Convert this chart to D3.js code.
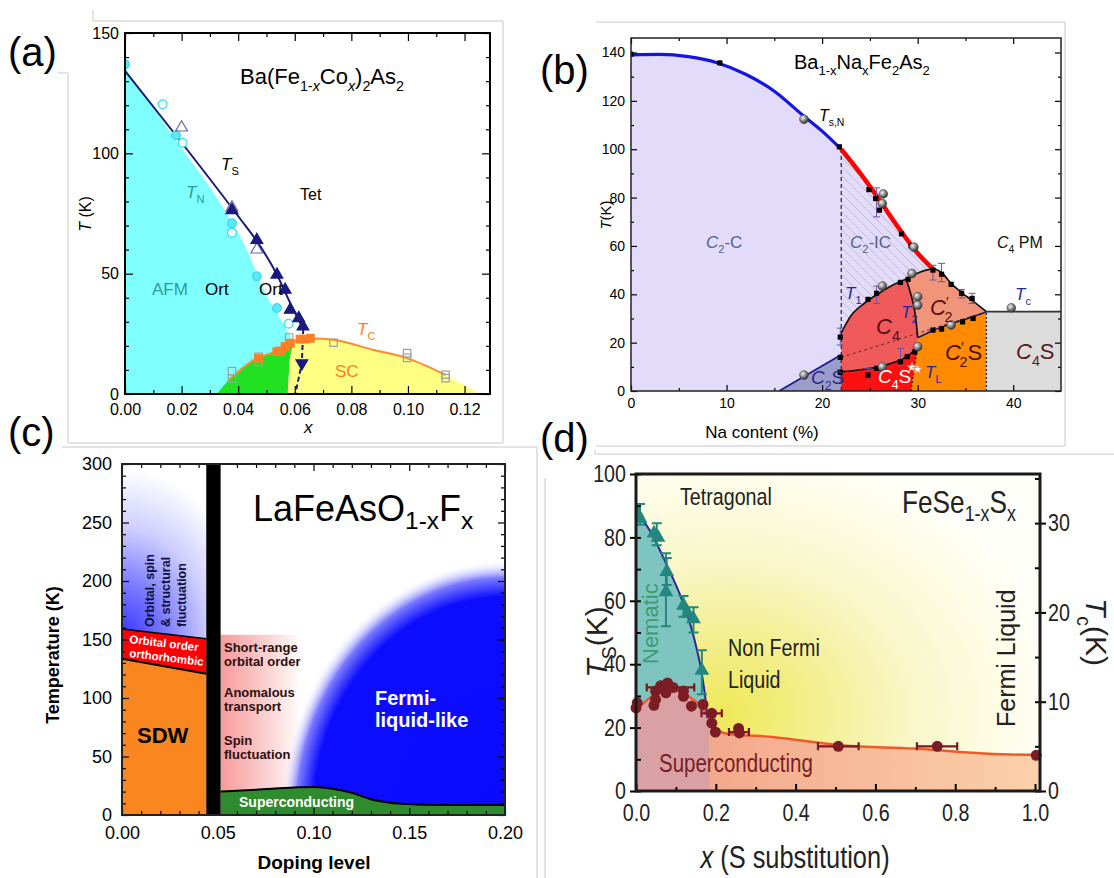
<!DOCTYPE html>
<html>
<head>
<meta charset="utf-8">
<script src="https://cdnjs.cloudflare.com/ajax/libs/d3/7.8.5/d3.min.js"></script>
<style>
  html, body { margin: 0; padding: 0; background: #fff; }
  svg { display: block; }
</style>
</head>
<body>
<svg id="fig" width="1114" height="878" xmlns="http://www.w3.org/2000/svg"></svg>
<script>
// ---------------- Panel (a): Ba(Fe1-xCox)2As2 ----------------
const aXTicks = [0, 0.02, 0.04, 0.06, 0.08, 0.10, 0.12];
const aXMinor = [0.01, 0.03, 0.05, 0.07, 0.09, 0.11];
const aYTicks = [0, 50, 100, 150];
const aYMinor = [10, 20, 30, 40, 60, 70, 80, 90, 110, 120, 130, 140];
const aTN = [[0, 135.5], [0.01, 119], [0.02, 102], [0.03, 86], [0.0354, 76], [0.043, 60], [0.049, 43.3], [0.055, 31], [0.0585, 24]];
const aTs = [[0, 134.3], [0.02, 104.5], [0.0409, 72.5], [0.0466, 63.5], [0.0537, 49.6], [0.0584, 37.8], [0.063, 27]];
const aTsDash = [[0.063, 27], [0.0625, 12.8], [0.0602, 0]];
const aTc = [[0.0366, 5.8], [0.0466, 14.9], [0.0537, 17.9], [0.0578, 21.1], [0.0595, 21.8], [0.0655, 23.2], [0.0737, 22.5], [0.0879, 18.3], [0.0997, 14.9], [0.1133, 7.9]];
const aScStart = [0.0324, 0];
const aScEnd = [0.1257, 0];
const aOrtEdge = [[0.0595, 21.8], [0.0582, 14], [0.0575, 0]];
const aTsUpFilled = [[0.0378, 76.4], [0.0466, 64], [0.0537, 49.6], [0.0566, 43.3], [0.0584, 35], [0.0614, 31.5], [0.0629, 28]];
const aTsUpOpen = [[0.02, 110.7], [0.0378, 77.5], [0.0466, 60]];
const aTsDown = [[0.0625, 12.8]];
const aTnFilled = [[0, 137], [0.018, 107.5], [0.0378, 71], [0.0466, 48.9], [0.0537, 35.7]];
const aTnOpen = [[0.0133, 120.4], [0.0204, 104.4], [0.0378, 67], [0.0578, 29.2]];
const aTcFilled = [[0.0472, 14.9], [0.0537, 17.6], [0.0549, 17.9], [0.0566, 19.7], [0.0584, 21.1], [0.0619, 22.8], [0.0637, 22.8], [0.0655, 23.2]];
const aTcOpen = [[0.0378, 9.5], [0.0378, 6.5], [0.0472, 15.5], [0.0472, 13.3], [0.058, 23.5], [0.0737, 21.3], [0.0997, 17], [0.0997, 15], [0.1133, 8], [0.1133, 6.6]];

// ---------------- Panel (b): Ba1-xNaxFe2As2 ----------------
const bXTicks = [0, 10, 20, 30, 40];
const bXMinor = [5, 15, 25, 35];
const bYTicks = [0, 20, 40, 60, 80, 100, 120, 140];
const bYMinor = [10, 30, 50, 70, 90, 110, 130];
const bTsN = [[0, 139], [3, 139.2], [6, 138.3], [9, 135.8], [12, 131], [15, 124], [18, 114], [20, 107.5], [22, 100]];
const bTsRed = [[22, 100], [24, 90], [26, 79], [28, 67.5], [30, 57], [31.6, 50.5]];
const bT1 = [[22, 24], [23, 31], [24.5, 36.5], [26, 40.5], [27.5, 44], [28.8, 46.3]];
const bC2Top = [[28.8, 46.3], [30.1, 48.9], [31.6, 50.5], [32.5, 49], [33.5, 44.5], [34.7, 40.4], [35.8, 37.2], [37.2, 32.8]];
const bT2 = [[28.8, 46.3], [29.6, 35], [30, 22]];
const bC4Bottom = [[22, 8], [24, 8.8], [25.7, 9.9], [27.5, 11.8], [28.8, 14], [30, 18.3]];
const bC2STop = [[30, 22], [31.6, 25], [33.5, 27.8], [35.5, 30.3], [37.2, 32.8]];
const bTcLine = [[37.2, 32.8], [45, 32.8]];
const bTLLine = [[29.3, 0], [30, 18.3]];
const bC2SEdge = [[15.5, 0], [22, 15]];
const bInnerDash = [[22, 13.9], [37.2, 32.8]];
const bSquares = [[0, 139.3], [9.3, 135.7], [21.8, 101], [24.9, 83.3], [25.6, 79.6], [26, 74.8], [28.3, 65], [29.3, 60],
  [21.9, 22.3], [21.9, 13.9], [21.9, 7.7], [24.8, 37.9], [25.7, 40.4], [28.2, 44.9], [29, 46.2], [31.6, 50], [32.5, 48.3],
  [33.5, 44.1], [34.6, 40.4], [35.7, 38.3], [31.6, 25.2], [32.5, 25.6], [34.7, 28.6], [35.8, 30], [24.8, 6.6], [25.7, 9.4],
  [28.2, 12.1], [28.9, 14.2], [29.7, 16.2]];
const bSpheres = [[18.1, 112.4], [26.3, 77.5], [26.4, 81.5], [29.6, 59.5], [18.1, 6.6], [26.3, 43.4], [29.4, 48.6], [30, 39],
  [30, 35.5], [33.5, 27.3], [30, 18.3], [26.3, 10], [39.8, 34.4]];
const bErr = [[21.9, 19, 26], [21.9, 3.2, 8.7], [25.7, 36.2, 43.4], [24.8, 3.9, 9.4], [28.2, 10.7, 17.6], [31.6, 45.9, 52],
  [32.5, 45.2, 52.8], [35.7, 36.2, 40.4], [34.6, 38.5, 42], [25.7, 72, 84]];
const bTLStars = [[29.4, 9.8], [30, 9]];

// ---------------- Panel (c): LaFeAsO1-xFx ----------------
const cXTicks = [0, 0.05, 0.10, 0.15, 0.20];
const cXMinor = d3.range(1, 20).filter(i => i % 5).map(i => i / 100);
const cYTicks = [0, 50, 100, 150, 200, 250, 300];
const cYMinor = d3.range(10, 300, 10).filter(v => v % 50);
const cSdwTop = [[0, 133.6], [0.044, 120.8]];
const cOrbTop = [[0, 159], [0.044, 150.6]];
const cBar = [0.044, 0.0515];
const cPinkTop = 154;
const cScTop = [[0.0515, 20], [0.07, 21.5], [0.09, 23.5], [0.1, 24], [0.11, 22.5], [0.12, 19], [0.131, 13], [0.14, 10.5], [0.149, 9.4], [0.17, 8.6], [0.2, 8.5]];

// ---------------- Panel (d): FeSe1-xSx ----------------
const dXTicks = [0, 0.2, 0.4, 0.6, 0.8, 1.0];
const dXMinor = [0.1, 0.3, 0.5, 0.7, 0.9];
const dYTicks = [0, 20, 40, 60, 80, 100];
const dYMinor = [10, 30, 50, 70, 90];
const dY2Ticks = [0, 10, 20, 30];
const dY2Minor = [5, 15, 25, 35];
const dTs = [[0, 88.5], [0.04, 81], [0.08, 70.5], [0.11, 62], [0.13, 55], [0.15, 46], [0.165, 37], [0.175, 28], [0.181, 20], [0.185, 0]];
const dTsLine = [[0, 88.5], [0.04, 81], [0.08, 70.5], [0.11, 62], [0.13, 55], [0.15, 46], [0.165, 37], [0.175, 28], [0.179, 23]];
const dTc = [[0, 9.3], [0.009, 9.5], [0.04, 10.6], [0.075, 11.2], [0.102, 11.2], [0.137, 10.45], [0.173, 8.9], [0.185, 8.0], [0.199, 7.0], [0.226, 6.45], [0.341, 6.05], [0.518, 5.1], [0.695, 4.75], [0.872, 4.2], [1.0, 4.05], [1.0125, 4.05]];
const dScSplit = 0.185;
const dTcDots = [[0, 9.3], [0.003, 9.87], [0.045, 9.6], [0.049, 10.26], [0.049, 11.2], [0.062, 11.8], [0.075, 11.0], [0.079, 12.1], [0.093, 11.6],
  [0.119, 11.2], [0.119, 10.6], [0.139, 9.5], [0.168, 9.7], [0.19, 8.7], [0.19, 7.6], [0.199, 6.6], [0.257, 7.0], [0.259, 6.5],
  [0.507, 5.0], [0.755, 5.0], [1.003, 4.0]];
const dTcErr = [[0.075, 11.6, 0.027, 0.146], [0.19, 8.7, 0.164, 0.215], [0.257, 6.6, 0.233, 0.283], [0.507, 5.0, 0.456, 0.558], [0.755, 5.0, 0.704, 0.805]];
const dTsTri = [[0.003, 87.6], [0.01, 86], [0.045, 81.3], [0.055, 80], [0.077, 69.2], [0.075, 62.8], [0.119, 58.5], [0.13, 56], [0.144, 54.3], [0.165, 38]];
const dTsErr = [[0.01, 84, 90.5], [0.052, 77.5, 84.5], [0.077, 65, 73.5], [0.075, 52, 75], [0.119, 55, 61.5], [0.144, 50, 58], [0.165, 30.5, 44.4]];

// ---------------- shared helpers ----------------
const SANS = "'Liberation Sans', Arial, Helvetica, sans-serif";
const svg = d3.select("#fig");
const defs = svg.append("defs");

function shape(x, y, segs, close = true) {
  return segs.map((s, i) => {
    const p = d3.line().x(d => x(d[0])).y(d => y(d[1])).curve(s[1] || d3.curveLinear)(s[0]);
    return i ? "L" + p.slice(1) : p;
  }).join("") + (close ? "Z" : "");
}
function line(x, y, pts, curve) {
  return d3.line().x(d => x(d[0])).y(d => y(d[1])).curve(curve || d3.curveLinear)(pts);
}
function rich(g, x, y, parts, o = {}) {
  const size = o.size || 14;
  const t = g.append("text").attr("x", x).attr("y", y)
    .attr("font-family", o.font || SANS).attr("font-size", size)
    .attr("fill", o.fill || "#000").attr("text-anchor", o.anchor || "start");
  if (o.weight) t.attr("font-weight", o.weight);
  if (o.transform) t.attr("transform", o.transform);
  let shift = 0;
  parts.forEach(p => {
    const s = typeof p === "string" ? { t: p } : p;
    const target = s.sub ? size * (o.subDrop || 0.3) : s.sup ? -size * 0.38 : 0;
    const ts = t.append("tspan").text(s.t).attr("dy", target - shift);
    shift = target;
    if (s.sub || s.sup) ts.attr("font-size", size * (o.subScale || 0.65));
    if (s.it) ts.attr("font-style", "italic");
    if (s.dx) ts.attr("dx", s.dx);
  });
  return t;
}
// horizontally condensed lettering (scaled about the text anchor point)
function narrow(t, f) {
  t.each(function () {
    const s = d3.select(this);
    const ax = +s.attr("x") || 0, ay = +s.attr("y") || 0;
    s.attr("transform", `translate(${ax},${ay}) scale(${f},1) translate(${-ax},${-ay})`);
  });
  return t;
}
function axisSet(g, fn, scale, vals, size, tx, ty, o = {}) {
  const a = fn(scale).tickValues(vals).tickSizeInner(size).tickSizeOuter(0).tickPadding(o.pad || 3)
    .tickFormat(o.fmt || (() => ""));
  const ag = g.append("g").attr("transform", `translate(${tx},${ty})`).call(a);
  ag.select(".domain").remove();
  ag.selectAll("line").attr("stroke", o.color || "#000").attr("stroke-width", o.tw || 1.2);
  ag.attr("font-family", o.font || SANS).attr("font-size", o.fontSize || 14);
  ag.selectAll("text").attr("fill", "#000");
  if (!o.fmt) ag.selectAll("text").remove();
  return ag;
}
function clip(id, x, y, w, h) {
  defs.append("clipPath").attr("id", id).append("rect").attr("x", x).attr("y", y).attr("width", w).attr("height", h);
  return `url(#${id})`;
}

// page-level boxes around each panel image
const boxes = svg.append("g").attr("fill", "none").attr("stroke", "#c8c8c8").attr("stroke-width", 1);
boxes.append("path").attr("d", "M93,10V21H503V443H68V73H58");
boxes.append("path").attr("d", "M596,22H1065V446H596");
boxes.append("path").attr("d", "M62,447H537V878");
boxes.append("path").attr("d", "M595,450V454H1114M545,478V878");

// ======================= Panel (a) =======================
{
  const g = svg.append("g");
  const x = d3.scaleLinear().domain([0, 0.129]).range([125, 490]);
  const y = d3.scaleLinear().domain([0, 150]).range([394, 33]);
  const p = g.append("g").attr("clip-path", clip("clipA", 125, 33, 365, 361));
  const mono = d3.curveMonotoneX;

  // AFM / orthorhombic region under T_N
  p.append("path").attr("fill", "#80ffff")
    .attr("d", shape(x, y, [[[[0, 0], [0, aTN[0][1]]]], [aTN, mono], [[aTN[aTN.length - 1], [0.0575, 0]]]]));
  // superconducting dome: coexistence (green) and tetragonal (yellow)
  const split = aTc.findIndex(d => d[0] >= 0.0595);
  p.append("path").attr("fill", "#22e022")
    .attr("d", shape(x, y, [[[aScStart]], [aTc.slice(0, split + 1), mono], [aOrtEdge.slice(1)]]));
  p.append("path").attr("fill", "#ffff84")
    .attr("d", shape(x, y, [[aOrtEdge.slice().reverse()], [aTc.slice(split), mono], [[aScEnd]]]));

  // transition lines
  p.append("path").attr("fill", "none").attr("stroke", "#1a1a7e").attr("stroke-width", 2)
    .attr("d", line(x, y, aTs, d3.curveMonotoneX));
  p.append("path").attr("fill", "none").attr("stroke", "#1a1a7e").attr("stroke-width", 2).attr("stroke-dasharray", "5,3")
    .attr("d", line(x, y, aTsDash));
  p.append("path").attr("fill", "none").attr("stroke", "#ff8a2a").attr("stroke-width", 2)
    .attr("d", line(x, y, aTc, mono));

  // data symbols
  const sym = (type, size) => d3.symbol().type(type).size(size)();
  const put = (data, type, size, fill, stroke, rot) => p.append("g").selectAll("path").data(data).join("path")
    .attr("d", sym(type, size))
    .attr("transform", d => `translate(${x(d[0])},${y(d[1])})${rot ? " rotate(180)" : ""}`)
    .attr("fill", fill).attr("stroke", stroke).attr("stroke-width", 1.2);
  put(aTcOpen, d3.symbolSquare, 55, "none", "#a0a0a0");
  put(aTnOpen, d3.symbolCircle, 60, "#ffffff", "#35dcef");
  put(aTnFilled, d3.symbolCircle, 60, "#5ee8f6", "#35dcef");
  put(aTsUpOpen, d3.symbolTriangle, 60, "none", "#6a6aa8");
  put(aTsUpFilled, d3.symbolTriangle, 60, "#1a1a7e", "#1a1a7e");
  put(aTsDown, d3.symbolTriangle, 60, "#1a1a7e", "#1a1a7e", true);
  put(aTcFilled, d3.symbolSquare, 60, "#ff7f27", "#ff7f27");

  // axes
  axisSet(g, d3.axisBottom, x, aXTicks, -8, 0, 394, { pad: 10, fmt: d3.format(".2f"), fontSize: 16 });
  axisSet(g, d3.axisBottom, x, aXMinor, -4, 0, 394);
  axisSet(g, d3.axisTop, x, aXTicks, -8, 0, 33);
  axisSet(g, d3.axisTop, x, aXMinor, -4, 0, 33);
  axisSet(g, d3.axisLeft, y, aYTicks, -8, 125, 0, { pad: 6, fmt: d3.format("d"), fontSize: 16 });
  axisSet(g, d3.axisLeft, y, aYMinor, -4, 125, 0);
  axisSet(g, d3.axisRight, y, aYTicks, -8, 490, 0);
  axisSet(g, d3.axisRight, y, aYMinor, -4, 490, 0);
  g.append("rect").attr("x", 125).attr("y", 33).attr("width", 365).attr("height", 361)
    .attr("fill", "none").attr("stroke", "#000").attr("stroke-width", 2);

  // labels
  rich(g, 240, 84, ["Ba(Fe", { t: "1-", sub: 1 }, { t: "x", sub: 1, it: 1 }, "Co", { t: "x", sub: 1, it: 1 }, ")", { t: "2", sub: 1 }, "As", { t: "2", sub: 1 }], { size: 22 });
  rich(g, 221, 170, [{ t: "T", it: 1 }, { t: "S", sub: 1 }], { size: 17 });
  rich(g, 186, 198, [{ t: "T", it: 1 }, { t: "N", sub: 1 }], { size: 17, fill: "#2a9c9c" });
  rich(g, 300, 200, ["Tet"], { size: 16 });
  rich(g, 152, 295, ["AFM"], { size: 17, fill: "#2a9c9c" });
  rich(g, 205, 295, ["Ort"], { size: 17 });
  rich(g, 259, 295, ["Ort"], { size: 17 });
  rich(g, 357, 335, [{ t: "T", it: 1 }, { t: "C", sub: 1 }], { size: 17, fill: "#ff8020" });
  rich(g, 335, 377, ["SC"], { size: 17, fill: "#ff8020" });
  rich(g, 304, 433, [{ t: "x", it: 1 }], { size: 17 });
  rich(g, 0, 0, [{ t: "T", it: 1 }, " (K)"], { size: 16, anchor: "middle", transform: "translate(91,214) rotate(-90)" });
}

// ======================= Panel (b) =======================
{
  const g = svg.append("g");
  const x = d3.scaleLinear().domain([0, 45]).range([631, 1061]);
  const y = d3.scaleLinear().domain([0, 146]).range([391, 38]);
  const p = g.append("g").attr("clip-path", clip("clipB", 631, 38, 430, 353));
  const mono = d3.curveMonotoneX, cr = d3.curveCatmullRom;

  const sph = defs.append("radialGradient").attr("id", "sphere").attr("cx", "38%").attr("cy", "35%").attr("r", "65%");
  sph.append("stop").attr("offset", 0).attr("stop-color", "#f4f4f4");
  sph.append("stop").attr("offset", 0.45).attr("stop-color", "#9a9a9a");
  sph.append("stop").attr("offset", 1).attr("stop-color", "#2e2e2e");
  const hp = defs.append("pattern").attr("id", "hatch").attr("patternUnits", "userSpaceOnUse").attr("width", 9).attr("height", 9);
  hp.append("path").attr("d", "M-2,-2L11,11M-2,7L2,11M7,-2L11,2").attr("stroke", "#b6b2c8").attr("stroke-width", 0.8);

  const last = a => a[a.length - 1];
  const rev = a => a.slice().reverse();
  // orthorhombic C2 background under T_s,N
  p.append("path").attr("fill", "#e2dcfa")
    .attr("d", shape(x, y, [[[[0, 0]]], [bTsN.concat(bTsRed.slice(1)), mono], [[[last(bTsRed)[0], 0]]]]));
  // incommensurate C2-IC (hatched)
  p.append("path").attr("fill", "url(#hatch)")
    .attr("d", shape(x, y, [[[[22, 0]]], [bTsRed, mono], [[[last(bTsRed)[0], 0]]]]));
  // C2S
  p.append("path").attr("fill", "#9c9ccc").attr("d", shape(x, y, [[[bC2SEdge[0], bC2SEdge[1], [22, 0]]]]));
  // C4S (red)
  p.append("path").attr("fill", "#ff1010")
    .attr("d", shape(x, y, [[[[22, 0]]], [bC4Bottom, mono], [[bTLLine[0]]]]));
  // C'2S (orange)
  p.append("path").attr("fill", "#ff8a00")
    .attr("d", shape(x, y, [[[bTLLine[0], bTLLine[1]]], [bC2STop, mono], [[[last(bC2STop)[0], 0]]]]));
  // C4S (tetragonal, grey)
  p.append("path").attr("fill", "#dcdcdc")
    .attr("d", shape(x, y, [[[[37.2, 0], bTcLine[0], bTcLine[1], [45, 0]]]]));
  // C4 magnetic
  p.append("path").attr("fill", "#f15a5a")
    .attr("d", shape(x, y, [[[bC4Bottom[0]]], [bT1, mono], [bT2, cr], [rev(bC4Bottom), cr]]));
  // C'2
  p.append("path").attr("fill", "#f0947a")
    .attr("d", shape(x, y, [[bC2Top, mono], [rev(bC2STop), cr], [rev(bT2), cr]]));

  const stroke = (d, col, w, dash) => {
    const s = p.append("path").attr("d", d).attr("fill", "none").attr("stroke", col).attr("stroke-width", w);
    if (dash) s.attr("stroke-dasharray", dash);
  };
  stroke(line(x, y, bInnerDash), "#5a2a3a", 1, "3,3");
  stroke(line(x, y, [[22, 0], [22, 100]]), "#222", 1.2, "4,3");
  stroke(line(x, y, bTLLine), "#222", 1.2, "2,2");
  stroke(line(x, y, [[37.2, 0], [37.2, 32.8]]), "#222", 1.2, "2,2");
  stroke(line(x, y, bT1, mono), "#111", 1.7);
  stroke(line(x, y, bC2Top, mono), "#111", 1.7);
  stroke(line(x, y, bT2, cr), "#111", 1.7);
  stroke(line(x, y, bC4Bottom, mono), "#111", 1.7);
  stroke(line(x, y, bC2STop, mono), "#1c1c5a", 1.7);
  stroke(line(x, y, bTcLine), "#333", 1.7);
  stroke(line(x, y, bC2SEdge), "#1a1a90", 1.7);
  stroke(line(x, y, bTsN, mono), "#1414e6", 3.2);
  stroke(line(x, y, bTsRed, mono), "#ff0000", 4.5);

  // error bars
  const eb = p.append("g").attr("stroke", "#7050a8").attr("stroke-width", 1).attr("fill", "none");
  bErr.forEach(e => {
    eb.append("path").attr("d", `M${x(e[0])},${y(e[1])}V${y(e[2])}M${x(e[0]) - 3.5},${y(e[1])}h7M${x(e[0]) - 3.5},${y(e[2])}h7`);
  });
  p.append("g").selectAll("rect").data(bSquares).join("rect")
    .attr("x", d => x(d[0]) - 2.6).attr("y", d => y(d[1]) - 2.6).attr("width", 5.2).attr("height", 5.2).attr("fill", "#000");
  p.append("g").selectAll("circle").data(bSpheres).join("circle")
    .attr("cx", d => x(d[0])).attr("cy", d => y(d[1])).attr("r", 4.4).attr("fill", "url(#sphere)").attr("stroke", "#444").attr("stroke-width", 0.6);
  p.append("g").selectAll("path").data(bTLStars).join("path")
    .attr("d", d3.symbol().type(d3.symbolStar).size(34)())
    .attr("transform", d => `translate(${x(d[0])},${y(d[1])})`)
    .attr("fill", "#fff").attr("stroke", "#ff7a30").attr("stroke-width", 0.8);

  // axes
  axisSet(g, d3.axisBottom, x, bXTicks, -6, 0, 391, { pad: 7, fmt: d3.format("d"), fontSize: 14 });
  axisSet(g, d3.axisBottom, x, bXMinor, -3, 0, 391);
  axisSet(g, d3.axisTop, x, bXTicks, -6, 0, 38);
  axisSet(g, d3.axisTop, x, bXMinor, -3, 0, 38);
  axisSet(g, d3.axisLeft, y, bYTicks, -6, 631, 0, { pad: 6, fmt: d3.format("d"), fontSize: 14 });
  axisSet(g, d3.axisLeft, y, bYMinor, -3, 631, 0);
  axisSet(g, d3.axisRight, y, bYTicks, -6, 1061, 0);
  axisSet(g, d3.axisRight, y, bYMinor, -3, 1061, 0);
  g.append("rect").attr("x", 631).attr("y", 38).attr("width", 430).attr("height", 353)
    .attr("fill", "none").attr("stroke", "#222").attr("stroke-width", 1.5);

  // labels
  const it = t => ({ t, it: 1 });
  const sub = t => ({ t, sub: 1 });
  rich(g, 794, 69, ["Ba", sub("1-x"), "Na", sub("x"), "Fe", sub("2"), "As", sub("2")], { size: 20 });
  rich(g, 819, 121, [it("T"), sub("s,N")], { size: 16 });
  rich(g, 706, 248, [it("C"), sub("2"), "-C"], { size: 17, fill: "#4f6490" });
  rich(g, 850, 248, [it("C"), sub("2"), "-IC"], { size: 17, fill: "#4f6490" });
  rich(g, 997, 248, [it("C"), sub("4"), " PM"], { size: 16, fill: "#111" });
  rich(g, 845, 299, [it("T"), sub("1")], { size: 17, fill: "#1e2aa0" });
  rich(g, 876, 334, [it("C"), sub("4")], { size: 22, fill: "#5a0f14" });
  rich(g, 901, 318, [it("T"), sub("2")], { size: 17, fill: "#1e2aa0" });
  rich(g, 930, 315, [it("C"), { t: "′", sup: 1 }, { t: "2", sub: 1, dx: -4 }], { size: 22, fill: "#5a0f14" });
  rich(g, 1015, 300, [it("T"), sub("c")], { size: 17, fill: "#1e2aa0" });
  rich(g, 1016, 359, [it("C"), sub("4"), "S"], { size: 22, fill: "#5a1a1a" });
  rich(g, 945, 360, [it("C"), { t: "′", sup: 1 }, { t: "2", sub: 1, dx: -4 }, "S"], { size: 22, fill: "#4a1010" });
  rich(g, 878, 383, [it("C"), sub("4"), "S"], { size: 19, fill: "#ffffff" });
  rich(g, 811, 384, [it("C"), sub("2"), "S"], { size: 19, fill: "#2a2a80" });
  rich(g, 925, 378, [it("T"), sub("L")], { size: 17, fill: "#1e2aa0" });
  rich(g, 762, 438, ["Na content (%)"], { size: 17, anchor: "middle" });
  rich(g, 0, 0, [it("T"), "(K)"], { size: 15, anchor: "middle", transform: "translate(611,215) rotate(-90)" });
}

// ======================= Panel (c) =======================
{
  const g = svg.append("g");
  const x = d3.scaleLinear().domain([0, 0.2]).range([122, 505]);
  const y = d3.scaleLinear().domain([0, 300]).range([815, 464]);
  const p = g.append("g").attr("clip-path", clip("clipC", 122, 464, 383, 351));
  const BOLD = "'Liberation Sans', Arial, sans-serif";

  const gf = defs.append("radialGradient").attr("id", "fluct").attr("gradientUnits", "userSpaceOnUse")
    .attr("cx", x(0)).attr("cy", y(150)).attr("r", 170)
    .attr("gradientTransform", `translate(${x(0)},${y(150)}) scale(0.78,1) translate(${-x(0)},${-y(150)})`);
  [[0, "#3030ff"], [0.3, "#7474ff"], [0.65, "#cdcdff"], [1, "#ffffff"]].forEach(s => gf.append("stop").attr("offset", s[0]).attr("stop-color", s[1]));
  const gp = defs.append("linearGradient").attr("id", "pink").attr("gradientUnits", "userSpaceOnUse")
    .attr("x1", x(cBar[1])).attr("x2", x(0.094)).attr("y1", 0).attr("y2", 0);
  [[0, "#f79a9a"], [0.55, "#fbcfcf"], [1, "#ffffff"]].forEach(s => gp.append("stop").attr("offset", s[0]).attr("stop-color", s[1]));
  const gb = defs.append("radialGradient").attr("id", "fermi").attr("gradientUnits", "userSpaceOnUse")
    .attr("cx", x(0.2)).attr("cy", y(0)).attr("r", 255)
    .attr("gradientTransform", `translate(${x(0.2)},${y(0)}) scale(0.88,1) translate(${-x(0.2)},${-y(0)})`);
  [[0, "#0a0aff", 1], [0.855, "#0c0cff", 1], [0.93, "#7a7aff", 1], [1, "#ffffff", 0]].forEach(s =>
    gb.append("stop").attr("offset", s[0]).attr("stop-color", s[1]).attr("stop-opacity", s[2]));

  // fluctuation region above the orbital order band
  p.append("path").attr("fill", "url(#fluct)")
    .attr("d", shape(x, y, [[[[0, 300], [cBar[0], 300], cOrbTop[1], cOrbTop[0]]]]));
  p.append("path").attr("fill", "#ff0000")
    .attr("d", shape(x, y, [[[cOrbTop[0], cOrbTop[1], cSdwTop[1], cSdwTop[0]]]]));
  p.append("path").attr("fill", "#f9861f")
    .attr("d", shape(x, y, [[[cSdwTop[0], cSdwTop[1], [cBar[0], 0], [0, 0]]]]));
  p.append("path").attr("d", line(x, y, cOrbTop)).attr("stroke", "#000").attr("stroke-width", 1.5);
  p.append("path").attr("d", line(x, y, cSdwTop)).attr("stroke", "#000").attr("stroke-width", 2);
  // short-range order region
  p.append("rect").attr("x", x(cBar[1])).attr("y", y(cPinkTop)).attr("width", x(0.1) - x(cBar[1])).attr("height", y(0) - y(cPinkTop))
    .attr("fill", "url(#pink)");
  // Fermi-liquid-like region
  p.append("g").attr("clip-path", clip("clipC2", x(cBar[1]), 464, 505 - x(cBar[1]), 351))
    .append("ellipse").attr("cx", x(0.2)).attr("cy", y(0)).attr("rx", 0.88 * 255).attr("ry", 255).attr("fill", "url(#fermi)");
  // superconducting dome
  p.append("path").attr("fill", "#2e8b2e")
    .attr("d", shape(x, y, [[[[cBar[1], 0]]], [cScTop, d3.curveMonotoneX], [[[0.2, 0]]]]));
  p.append("path").attr("fill", "none").attr("stroke", "#000").attr("stroke-width", 2)
    .attr("d", line(x, y, cScTop, d3.curveMonotoneX));
  // first-order boundary
  p.append("rect").attr("x", x(cBar[0])).attr("y", y(300)).attr("width", x(cBar[1]) - x(cBar[0])).attr("height", y(0) - y(300)).attr("fill", "#000");

  // axes
  axisSet(g, d3.axisBottom, x, cXTicks, -7, 0, 815, { pad: 11, fmt: d3.format(".2f"), fontSize: 18 });
  axisSet(g, d3.axisBottom, x, cXMinor, -4, 0, 815);
  axisSet(g, d3.axisTop, x, cXTicks, -7, 0, 464);
  axisSet(g, d3.axisTop, x, cXMinor, -4, 0, 464);
  axisSet(g, d3.axisLeft, y, cYTicks, -7, 122, 0, { pad: 10, fmt: d3.format("d"), fontSize: 18 });
  axisSet(g, d3.axisLeft, y, cYMinor, -4, 122, 0);
  axisSet(g, d3.axisRight, y, cYTicks, -7, 505, 0);
  axisSet(g, d3.axisRight, y, cYMinor, -4, 505, 0);
  g.append("rect").attr("x", 122).attr("y", 464).attr("width", 383).attr("height", 351)
    .attr("fill", "none").attr("stroke", "#222").attr("stroke-width", 2);

  // labels
  const dark = "#2a1010";
  rich(g, 253, 521, ["LaFeAsO", { t: "1-x", sub: 1 }, "F", { t: "x", sub: 1 }], { size: 36, subScale: 0.68, subDrop: 0.22 });
  rich(g, 137, 743, ["SDW"], { size: 22, weight: "bold", font: BOLD });
  [["Short-range", 652], ["orbital order", 666], ["Anomalous", 697], ["transport", 711], ["Spin", 745], ["fluctuation", 759]].forEach(l =>
    rich(g, 224, l[1], [l[0]], { size: 13, weight: "bold", fill: dark, font: BOLD }));
  rich(g, 375, 705, ["Fermi-"], { size: 20, weight: "bold", fill: "#ffffff", font: BOLD });
  rich(g, 375, 727, ["liquid-like"], { size: 20, weight: "bold", fill: "#ffffff", font: BOLD });
  rich(g, 239, 807, ["Superconducting"], { size: 14, weight: "bold", fill: "#ffffff", font: BOLD });
  rich(g, 129, 643, ["Orbital order"], { size: 11.5, weight: "bold", fill: "#ffffff", font: BOLD, transform: "rotate(6.8,129,643)" });
  rich(g, 129, 657, ["orthorhombic"], { size: 11.5, weight: "bold", fill: "#ffffff", font: BOLD, transform: "rotate(6.8,129,657)" });
  [["Orbital, spin", 154], ["& structural", 170], ["fluctuation", 186]].forEach(l =>
    rich(g, 0, 0, [l[0]], { size: 12.5, weight: "bold", fill: "#101040", font: BOLD, transform: `translate(${l[1]},627) rotate(-90)` }));
  rich(g, 314, 869, ["Doping level"], { size: 19, weight: "bold", anchor: "middle", font: BOLD });
  rich(g, 0, 0, ["Temperature (K)"], { size: 18, weight: "bold", anchor: "middle", font: BOLD, transform: "translate(59,655) rotate(-90)" });
}

// ======================= Panel (d) =======================
{
  const g = svg.append("g");
  const x = d3.scaleLinear().domain([0, 1.0125]).range([636, 1040]);
  const y = d3.scaleLinear().domain([0, 100]).range([791, 474]);
  const y2 = d3.scaleLinear().domain([0, 35.5]).range([791, 474]);
  const p = g.append("g").attr("clip-path", clip("clipD", 636, 474, 404, 317));
  const mono = d3.curveMonotoneX;
  const NF = 0.82;

  const gy = defs.append("radialGradient").attr("id", "nfl").attr("gradientUnits", "userSpaceOnUse")
    .attr("cx", x(0.22)).attr("cy", y(25)).attr("r", 340)
    .attr("gradientTransform", `translate(${x(0.22)},${y(25)}) scale(1,0.8) translate(${-x(0.22)},${-y(25)})`);
  [[0, "#efe85a"], [0.25, "#f3ee8a"], [0.55, "#f9f6c8"], [0.85, "#fefdea"], [1, "#fffffa"]].forEach(s => gy.append("stop").attr("offset", s[0]).attr("stop-color", s[1]));
  const gsc = defs.append("linearGradient").attr("id", "scpeach").attr("gradientUnits", "userSpaceOnUse")
    .attr("x1", x(dScSplit)).attr("x2", x(1.0)).attr("y1", 0).attr("y2", 0);
  [[0, "#f3a98b"], [0.5, "#f7bd9a"], [1, "#fcd0aa"]].forEach(s => gsc.append("stop").attr("offset", s[0]).attr("stop-color", s[1]));

  p.append("rect").attr("x", 636).attr("y", 474).attr("width", 404).attr("height", 317).attr("fill", "url(#nfl)");
  // nematic region
  p.append("path").attr("fill", "#7ec5c1").attr("d", shape(x, y, [[[[0, 0]]], [dTs, mono]]));
  // superconducting region, split at the nematic end point
  const toLeft = d => [d[0], d[1] * 100 / 35.5];
  const tcL = dTc.map(toLeft);
  const k = tcL.findIndex(d => d[0] >= dScSplit);
  p.append("path").attr("fill", "#d9a1a3")
    .attr("d", shape(x, y, [[[[0, 0]]], [tcL.slice(0, k + 1), mono], [[[dScSplit, 0]]]]));
  p.append("path").attr("fill", "url(#scpeach)")
    .attr("d", shape(x, y, [[[[dScSplit, 0]]], [tcL.slice(k), mono], [[[1.0125, 0]]]]));
  p.append("path").attr("fill", "none").attr("stroke", "#f05a2a").attr("stroke-width", 2.5)
    .attr("d", line(x, y2, dTc, mono));
  p.append("path").attr("fill", "none").attr("stroke", "#2a2a9a").attr("stroke-width", 2)
    .attr("d", line(x, y, dTsLine, mono));

  // T_s data (teal triangles with error bars)
  const te = p.append("g").attr("stroke", "#23877f").attr("stroke-width", 2).attr("fill", "none");
  dTsErr.forEach(e => te.append("path").attr("d", `M${x(e[0])},${y(e[1])}V${y(e[2])}M${x(e[0]) - 5},${y(e[1])}h10M${x(e[0]) - 5},${y(e[2])}h10`));
  p.append("g").selectAll("path").data(dTsTri).join("path")
    .attr("d", d3.symbol().type(d3.symbolTriangle).size(95)())
    .attr("transform", d => `translate(${x(d[0])},${y(d[1])})`).attr("fill", "#23877f");
  // T_c data (dark red circles with error bars)
  const ce = p.append("g").attr("stroke", "#7a1a22").attr("stroke-width", 2.2).attr("fill", "none");
  dTcErr.forEach(e => ce.append("path").attr("d", `M${x(e[2])},${y2(e[1])}H${x(e[3])}M${x(e[2])},${y2(e[1]) - 4}v8M${x(e[3])},${y2(e[1]) - 4}v8`));
  g.append("g").selectAll("circle").data(dTcDots).join("circle")
    .attr("cx", d => x(d[0])).attr("cy", d => y2(d[1])).attr("r", 5.5).attr("fill", "#7c1c24");

  // axes
  const ab = axisSet(g, d3.axisBottom, x, dXTicks, -7, 0, 791, { pad: 13, fmt: d3.format(".1f"), fontSize: 24, tw: 2 });
  axisSet(g, d3.axisBottom, x, dXMinor, -4, 0, 791, { tw: 2 });
  const al = axisSet(g, d3.axisLeft, y, dYTicks, 6, 636, 0, { pad: 4, fmt: d3.format("d"), fontSize: 24, tw: 2 });
  axisSet(g, d3.axisLeft, y, dYTicks, -5, 636, 0, { tw: 2 });
  axisSet(g, d3.axisLeft, y, dYMinor, -5, 636, 0, { tw: 2 });
  const ar = axisSet(g, d3.axisRight, y2, dY2Ticks, 6, 1040, 0, { pad: 2, fmt: d3.format("d"), fontSize: 24, tw: 2 });
  axisSet(g, d3.axisRight, y2, dY2Ticks, -5, 1040, 0, { tw: 2 });
  axisSet(g, d3.axisRight, y2, dY2Minor, -5, 1040, 0, { tw: 2 });
  [ab, al, ar].forEach(a => { a.selectAll("text").attr("fill", "#222"); narrow(a.selectAll("text"), NF); });
  g.append("rect").attr("x", 636).attr("y", 474).attr("width", 404).attr("height", 317)
    .attr("fill", "none").attr("stroke", "#1a1a1a").attr("stroke-width", 3);

  // labels
  narrow(rich(g, 680, 505, ["Tetragonal"], { size: 24, fill: "#222" }), NF);
  narrow(rich(g, 902, 513, ["FeSe", { t: "1-x", sub: 1 }, "S", { t: "x", sub: 1 }], { size: 32, fill: "#222", subScale: 0.68, subDrop: 0.25 }), NF);
  narrow(rich(g, 728, 656, ["Non Fermi"], { size: 24, fill: "#222" }), NF);
  narrow(rich(g, 728, 688, ["Liquid"], { size: 24, fill: "#222" }), NF);
  narrow(rich(g, 659, 772, ["Superconducting"], { size: 25, fill: "#7a1e26" }), NF);
  rich(g, 0, 0, ["Nematic"], { size: 22, fill: "#3a9c72", transform: "translate(658,664) rotate(-90)" });
  rich(g, 0, 0, ["Fermi Liquid"], { size: 25, fill: "#222", transform: "translate(1015,727) rotate(-90)" });
  rich(g, 0, 0, [{ t: "T", it: 1 }, { t: "S", sub: 1 }, "(K)"], { size: 30, fill: "#222", anchor: "middle", transform: "translate(607,642) rotate(-90)" });
  rich(g, 0, 0, [{ t: "T", it: 1 }, { t: "c", sub: 1 }, "(K)"], { size: 30, fill: "#222", anchor: "start", transform: "translate(1086,598) rotate(90)" });
  narrow(rich(g, 795, 868, [{ t: "x", it: 1 }, " (S substitution)"], { size: 31, fill: "#222", anchor: "middle" }), NF);
}

// panel letters
[["(a)", 8, 66], ["(b)", 540, 84], ["(c)", 8, 446], ["(d)", 540, 452]].forEach(l =>
  svg.append("text").attr("x", l[1]).attr("y", l[2]).attr("font-family", SANS).attr("font-size", 40).attr("fill", "#000").text(l[0]));
</script>
</body>
</html>
